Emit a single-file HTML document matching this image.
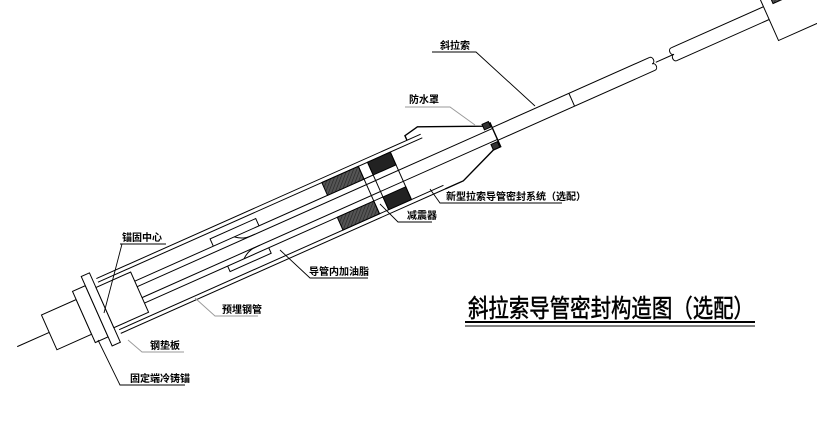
<!DOCTYPE html>
<html><head><meta charset="utf-8"><style>
html,body{margin:0;padding:0;background:#fff;}
svg{display:block;}
text{font-family:"Liberation Sans","Noto Sans CJK SC",sans-serif;fill:#000;}
</style></head><body>
<svg width="817" height="426" viewBox="0 0 817 426" xmlns="http://www.w3.org/2000/svg">
<defs>
<pattern id="h" width="3" height="3" patternUnits="userSpaceOnUse" patternTransform="rotate(45)">
<rect width="3" height="3" fill="#555"/><line x1="0" y1="0" x2="0" y2="3" stroke="#222" stroke-width="1.2"/>
</pattern>
</defs>
<g stroke="#000" stroke-width="1" fill="none" transform="translate(104,308) rotate(-24)">
<line x1="-95" y1="0" x2="-60" y2="0"/>
<rect x="-60" y="-19" width="38" height="38" fill="#fff"/>
<rect x="-22" y="-28" width="14" height="56" fill="#fff"/>
<rect x="-8" y="-38" width="9" height="76" fill="#fff"/>
<rect x="1" y="-22" width="38" height="44" fill="#fff"/>
<line x1="5" y1="-30" x2="360" y2="-30"/>
<line x1="5" y1="-26" x2="360" y2="-26"/>
<line x1="5" y1="30" x2="360" y2="30"/>
<line x1="5" y1="26" x2="360" y2="26"/>
<line x1="39" y1="-12" x2="300" y2="-12"/>
<line x1="39" y1="12" x2="300" y2="12"/>
<line x1="39" y1="-6" x2="428" y2="-6"/>
<line x1="39" y1="6" x2="428" y2="6"/>
<path d="M125,-12 L125,-20 L175,-20 L175,-12"/>
<path d="M130,12 L130,18 L175,18 L175,12"/>
<path d="M148,-12 C155,-6 160,-6 168,-6 M148,12 C155,6 160,6 168,6"/>
<rect x="250" y="-26" width="40" height="14" fill="url(#h)"/>
<rect x="250" y="12" width="40" height="14" fill="url(#h)"/>
<rect x="300" y="-26" width="25" height="14" fill="#222"/>
<rect x="300" y="12" width="25" height="14" fill="#222"/>
<line x1="290" y1="-26" x2="290" y2="26"/>
<line x1="300" y1="-26" x2="300" y2="26"/>
<line x1="325" y1="-26" x2="325" y2="26"/>
<path d="M345,-30 L345,-35 L360,-38 L420,-12 L428,-12 L428,14 L420,14 L380,30 L360,30" stroke-width="1.4"/>
<rect x="420" y="-14" width="7" height="6" fill="#333"/>
<rect x="420" y="8" width="7" height="6" fill="#333"/>
<line x1="428" y1="-7" x2="600" y2="-7"/>
<line x1="428" y1="7" x2="600" y2="7"/>
<line x1="512" y1="-7" x2="512" y2="7"/>
<path d="M600,-7 c4,0 4,7 0,7 c4,0 4,7 0,7"/>
<line x1="604" y1="0" x2="622" y2="0"/>
<path d="M624,-7 c-4,0 -4,7 0,7 c-4,0 -4,7 0,7"/>
<line x1="624" y1="-7" x2="725" y2="-7"/>
<line x1="624" y1="7" x2="725" y2="7"/>
<rect x="735" y="-20" width="40" height="14" fill="url(#h)"/>
<path d="M725,-30 L725,30 L820,30"/>
</g>
<g stroke="#000" stroke-width="0.9" fill="none">
<path d="M432,52 L476,52 L535,106"/>
<path d="M405,107 L450,107 L475,125" stroke="#999"/>
<path d="M430,189 L440,203 L562,203"/>
<path d="M380,204 L398,222 L432,222"/>
<path d="M120,244 L166,244 M122,244 L104,313"/>
<path d="M280,250 L310,278 L368,278"/>
<path d="M195,298 L215,316 L258,316" stroke="#999"/>
<path d="M128,340 L142,352 L184,352" stroke="#999"/>
<path d="M98,340 L120,385 L185,385"/>
<line x1="465" y1="322" x2="755" y2="322" stroke-width="2"/>
<line x1="465" y1="326" x2="755" y2="326"/>
</g>
<g font-size="10" font-weight="bold">
<text x="440" y="49">斜拉索</text>
<text x="409" y="103">防水罩</text>
<text x="446" y="200">新型拉索导管密封系统（选配）</text>
<text x="407" y="219">减震器</text>
<text x="122" y="241">锚固中心</text>
<text x="309" y="275">导管内加油脂</text>
<text x="222" y="313">预埋钢管</text>
<text x="150" y="349">钢垫板</text>
<text x="130" y="382">固定端冷铸锚</text>
</g>
<text x="468" y="317" font-size="25" stroke="#000" stroke-width="0.5" textLength="286" lengthAdjust="spacingAndGlyphs">斜拉索导管密封构造图（选配）</text>
</svg>
</body></html>
